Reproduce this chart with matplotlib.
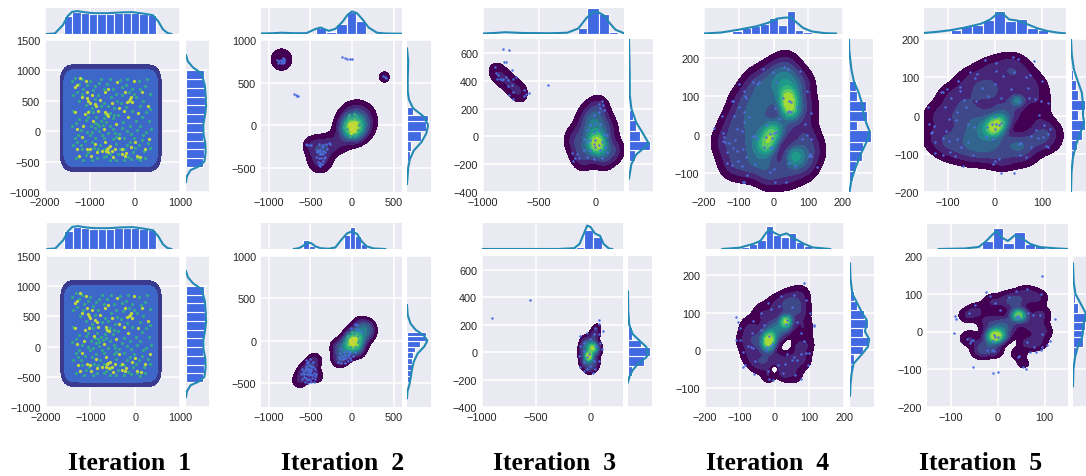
import numpy as np
import matplotlib
matplotlib.use("Agg")
import matplotlib.pyplot as plt

W, H = 1086, 477
TITLES = ["Iteration  1", "Iteration  2", "Iteration  3", "Iteration  4", "Iteration  5"]
TITLE_X = [130, 343, 555, 768, 981]

# ---------- Iteration 1 (both rows nearly alike)
P1_GRID_X = [-1490, -1300, -1110, -920, -730, -540, -350, -160, 30, 220, 410]
P1_GRID_Y = [-496, -318, -140, 38, 216, 394, 572, 750, 926]
P1_YELLOW = [(-1333,724),(-1074,641),(-1037,503),(-889,448),(-629,283),(-110,531),(-184,487),(-629,-294),(-592,-349),
 (-851,-349),(-1074,-294),(-1185,-101),(-1296,36),(38,-404),(-221,-404),(-296,-294),(-592,256),(-1037,311),(-926,173),
 (-407,806),(-221,641),(-666,641),(223,-294),(0,-184),(-444,-294),(-1333,311),(-1185,560),(-960,600),(-780,520),(-520,470),
 (-350,380),(-60,480),(150,640),(280,420),(-150,230),(-420,120),(-700,40),(-1150,90),(-1280,-300),(-880,-210),(-660,-180),
 (-350,-120),(-80,-260),(120,-420),(-500,-420),(-980,-410),(-1240,-400),(-740,-330),(-560,-250),(-300,-380),(320,-130),
 (-1120,280),(-820,330),(-240,330),(60,300),(-600,690),(-30,830),(-1100,830),(-1230,880),(-640,-330),(-610,-270),(-130,500),
 (-90,560),(-1060,540),(-1010,470),(-860,410),(-200,-360),(-660,320),(-1300,760),(-1010,-300),(-520,-330)]
P1_GREEN = [(-1400,820),(-1250,780),(-1150,700),(-1000,820),(-880,740),(-750,860),(-620,780),(-480,700),(-340,840),(-200,760),
 (-60,700),(80,820),(220,740),(340,620),(-1380,600),(-1240,500),(-1100,430),(-960,380),(-820,600),(-680,470),(-540,560),
 (-400,490),(-280,590),(-140,640),(30,560),(180,500),(330,360),(-1380,330),(-1250,200),(-1100,180),(-980,90),(-860,230),
 (-760,160),(-640,150),(-880,60),(-800,80),(-840,120),(-720,110),(-500,210),(-380,260),(-260,150),(-120,90),(20,160),
 (160,240),(310,160),(-1400,80),(-1260,-60),(-1120,-160),(-1000,-60),(-880,-120),(-740,-60),(-600,-30),(-480,30),(-360,-40),
 (-240,-110),(-100,-40),(40,20),(180,-60),(350,30),(-1380,-220),(-1280,-180),(-1180,-300),(-1040,-340),(-920,-280),(-780,-230),
 (-700,-290),(-560,-370),(-420,-210),(-340,-300),(-180,-230),(-40,-340),(80,-220),(200,-330),(330,-280),(-1320,-440),(-1150,-470),
 (-850,-440),(-700,-430),(-560,-470),(-250,-470),(-100,-450),(100,-480),(-660,290),(-560,300),(-470,270),(-1050,230),(-950,-20),
 (-1330,880),(-1180,860),(-1060,760),(-930,680),(-810,790),(-690,700),(-550,860),(-420,610),(-300,720),(-170,860),(-30,610),(120,690),
 (260,860),(-1300,650),(-1170,610),(-1030,330),(-900,530),(-750,410),(-610,420),(-460,380),(-320,460),(-190,390),(-70,330),(100,410),
 (240,310),(-1320,130),(-1190,20),(-1060,-10),(-940,310),(-810,10),(-690,-110),(-560,90),(-420,-90),(-300,60),(-180,10),(-30,-120),
 (110,90),(250,-20),(-1330,-110),(-1210,-230),(-1090,-390),(-960,-180),(-830,-300),(-640,-400),(-480,-130),(-380,-380),(-240,-300),
 (-120,-170),(10,-280),(150,-150),(280,-200),(-950,-470),(-420,-470),(-160,-420),(40,-440),(230,-440),(-900,140),(-680,210),(-440,-30)]

P1_TOP_E = [-1578, 467]
P1A_TOP_H = [.69,.85,.79,.78,.78,.78,.79,.82,.82,.76,.74]
P1_TOP_LINE_X = [-1960,-1780,-1600,-1500,-1400,-1280,-1100,-900,-600,-300,-50,200,400,520,620,720,810]
P1_TOP_LINE_Y = [0,.02,.35,.68,.85,.88,.83,.8,.8,.83,.84,.78,.72,.48,.18,.04,0]
P1_RIGHT_E = [-588, 1005]
P1_RIGHT_H = [.72,.8,.82,.74,.72,.78,.82,.84,.82,.8,.78]
P1_RIGHT_LINE_Y = [-835,-740,-640,-580,-500,-350,-200,-50,100,250,400,550,750,950,1050,1150,1250]
P1_RIGHT_LINE_X = [0,.04,.2,.55,.8,.85,.84,.76,.75,.82,.87,.86,.82,.68,.3,.08,0]

# ---------- Iteration 2, top
P2A_KDE = [(15,-30,.72,85),(60,50,.4,125),(-40,-80,.14,110),(-170,-220,.1,85),(-290,-240,.1,80),(-385,-260,.13,95),
 (-385,-420,.17,95),(-490,-240,.1,72),(-850,770,.1,118),(390,565,.085,68)]
P2A_PTS = [(-880,750),(-860,730),(-850,760),(-835,790),(-820,760),(-830,730),(-900,760),(-890,730),(-845,750),(-815,740),(-825,780),
 (375,580),(410,550),(395,560),(-120,795),(-90,785),(-60,780),(-30,780),(0,775),(-695,370),(-675,355),(-660,345),(-650,340),
 (-560,-225),(-540,-235),(-510,-230),(-490,-235),(-400,-220),(-350,-230),(-310,-225),(-280,-210),(-260,-220),(-380,-290),(-360,-260),
 (-420,-320),(-390,-340),(-350,-340),(-400,-390),(-370,-380),(-330,-370),(-410,-430),(-380,-440),(-350,-420),(-340,-390),(-380,-480),
 (-360,-460),(-400,-470),(-420,-290),(-300,-280),(-320,-320),(-395,-300),(-375,-330),(-430,-370),(-345,-300)]
P2A_YEL = [(-20,30),(-10,-10),(10,-20),(20,0),(-30,-30),(-5,-60),(15,-45),(-15,-90),(30,20),(-35,10),(40,-20),(25,-70),(0,15),(-20,-50)]
P2A_TEAL = [(-50,80),(0,80),(60,70),(80,0),(70,-60),(-60,-50),(-20,-130),(30,-120),(-80,30),(100,30),(-40,120),(20,130),(50,110),(-100,-20)]
P2A_TOP = ([-430,-310,-190,-60,50,170],[.24,.08,.38,.85,.5])
P2A_TOP_X = [-1096,-950,-850,-700,-550,-450,-380,-280,-200,-120,-50,0,60,130,200,300,400,600]
P2A_TOP_Y = [.02,.03,.05,.03,.03,.18,.25,.12,.2,.45,.75,.87,.8,.55,.25,.05,.02,.01]
P2A_RIGHT = ([-420,-300,-185,-65,45,118,215],[.12,.15,.6,.8,.86,.26])
P2A_RIGHT_Y = [-690,-500,-400,-300,-200,-100,0,100,200,300,400,550,750,900]
P2A_RIGHT_X = [0,.05,.12,.28,.6,.8,.88,.7,.25,.08,.03,.03,.05,0]

# ---------- Iteration 3, top
P3A_KDE = [(-890,470,.075,50),(-830,430,.075,50),(-770,385,.075,50),(-710,340,.075,50),(-660,305,.07,50),
 (15,-55,.6,50),(0,10,.3,95),(-30,120,.17,75),(30,205,.11,60),(-180,-30,.12,65),(-110,-140,.16,65),(80,-140,.17,62),(175,-100,.12,55),(110,60,.06,60)]
P3A_PTS = [(-818,630),(-768,623),(-425,371),(-893,498),(-812,534),(-795,534),(-884,457),(-863,438),(-878,414),(-848,414),(-818,414),
 (-795,426),(-833,402),(-774,402),(-735,414),(-705,426),(-780,362),(-744,366),(-735,318),(-765,295),(-729,270),(-634,330),(-616,307),
 (-634,290),(-586,314),(-744,474),(60,251),(30,235),(68,223),(45,204),(74,187),(30,175),(-15,151),(0,91),(-45,79),(45,91),(-74,43),
 (-15,31),(30,43),(74,19),(104,7),(-104,-17),(-51,-29),(0,-29),(-74,-41),(-15,-53),(30,-65),(60,-41),(89,-77),(-6,-77),(-45,-101),
 (45,-101),(104,-113),(-104,-101),(-164,-125),(-199,-180),(-179,-156),(-149,-156),(-74,-149),(-15,-160),(60,-156),(-208,-117)]
P3A_TOP = ([-150,-70,30,125,200],[.22,1.0,.75,.06])
P3A_TOP_X = [-1000,-900,-800,-650,-400,-250,-150,-80,-20,20,80,130,180,250]
P3A_TOP_Y = [0,.02,.05,.02,.01,.03,.2,.6,.85,.85,.7,.4,.15,.02]
P3A_RIGHT = ([-177,-100,-30,38,115,187],[.25,.88,.45,.3,.15])
P3A_RIGHT_Y = [-304,-200,-130,-80,-50,-20,30,100,200,300,450,700]
P3A_RIGHT_X = [0,.1,.3,.65,.82,.72,.55,.3,.1,.03,.03,0]

# ---------- Iteration 4, top
P4A_KDE = [(42,95,.38,19),(48,65,.38,19),(-5,5,.32,19),(-18,-25,.32,19),(60,-55,.25,20),(20,20,.16,24),
 (35,175,.11,28),(-5,150,.11,28),(-50,130,.11,28),(-85,85,.11,28),(-110,30,.11,28),(-135,-20,.11,28),(-115,-75,.11,28),(-70,-85,.09,26),
 (-15,-105,.11,26),(35,-100,.11,28),(85,-80,.11,28),(105,-40,.11,28),(85,5,.1,28),(85,70,.11,28),(75,130,.11,28),(35,130,.2,28),
 (-20,90,.15,30),(-50,40,.15,30),(-60,-20,.17,30),(-30,-60,.14,28)]
P4A_PTS = [(-29,172),(-2,163),(29,176),(43,172),(76,167),(-60,138),(-48,132),(-43,137),(-100,132),(-86,115),(-81,100),(-78,95),(-119,87),
 (-116,87),(-98,71),(-148,48),(-114,48),(-86,58),(-71,45),(-86,32),(-171,17),(-105,15),(-90,10),(-146,4),(-143,-7),(-146,-16),(-141,-20),
 (-129,-22),(-112,-14),(-116,-35),(-105,-42),(-88,-37),(-135,-46),(-78,-59),(-133,-74),(-102,-70),(-119,-79),(-92,-81),(-52,-78),(-76,-105),
 (-88,-123),(-84,-123),(27,95),(45,87),(49,84),(67,71),(5,70),(46,63),(43,58),(49,58),(17,41),(8,137),(-19,24),(2,4),(8,6),(-11,2),(-21,-7),
 (-5,-10),(-26,-33),(-10,-36),(-5,-33),(-52,-4),(-62,-3),(-48,-11),(90,28),(97,0),(107,-11),(81,-11),(109,-55),(103,-55),(106,-50),(124,-85),
 (46,-74),(62,-81),(2,-90),(-10,-98),(5,-125),(36,-125),(107,57),(95,115)]
P4A_TOP = ([-144,-118,-92,-66,-40,-14,12,38,62,86,112],[.03,.08,.2,.3,.38,.6,.35,.88,.15,.05])
P4A_TOP_X = [-200,-150,-100,-50,-15,10,30,50,65,85,110,150,180]
P4A_TOP_Y = [0,.04,.15,.28,.42,.58,.62,.63,.45,.22,.08,.01,0]
P4A_RIGHT = ([-120,-96,-70,-44,-18,12,36,62,88,114,140],[.18,.3,.55,.6,.9,.35,.75,.7,.33,.3])
P4A_RIGHT_Y = [-150,-120,-90,-50,-10,10,30,55,80,110,140,170,220,250]
P4A_RIGHT_X = [.02,.1,.25,.5,.8,.85,.72,.6,.55,.4,.2,.1,.01,0]

# ---------- Iteration 5, top
P5A_KDE = [(-3,-36,.44,14),(7,-18,.44,14),(47,39,.28,11),(50,-79,.14,18),(25,8,.2,22),(-25,-22,.2,26),
 (33,132,.1,24),(-8,118,.1,24),(-48,92,.1,24),(-88,50,.1,24),(-118,0,.1,24),(-122,-55,.1,24),(-98,-85,.1,24),(-55,-98,.1,24),
 (-12,-100,.09,24),(18,-118,.09,20),(60,-105,.1,22),(105,-65,.11,24),(112,-38,.08,20),(92,-8,.07,20),(88,35,.08,22),(78,75,.1,24),(50,105,.1,24),
 (-70,0,.12,28),(-40,45,.1,28),(0,65,.14,26),(-65,-55,.13,28),(-25,-70,.16,26),(20,-70,.13,24),(80,-60,.1,22)]
P5A_PTS = [(-22,146),(3,137),(37,152),(49,148),(82,143),(3,117),(40,113),(-37,109),(-42,97),(-53,113),(17,102),(74,106),(65,100),(100,91),
 (-78,89),(-73,74),(-102,69),(-115,62),(-110,62),(-74,63),(1,82),(-27,72),(33,69),(70,72),(-15,52),(-66,41),(-92,45),(-41,39),(12,45),(51,34),
 (72,45),(84,43),(98,39),(112,33),(-106,23),(-62,23),(-80,8),(-141,23),(93,1),(-97,-9),(-82,-13),(-139,-22),(-129,-28),(-134,-42),(-136,-46),
 (-104,-40),(-109,-60),(-97,-66),(-80,-61),(-127,-68),(-57,-22),(-44,-29),(-57,-70),(-71,-83),(-95,-96),(-127,-98),(-110,-103),(-85,-107),
 (-46,-102),(-68,-131),(0,-5),(-7,-22),(-16,-30),(3,-22),(12,-19),(8,-25),(-1,-35),(-19,-57),(-4,-61),(103,-26),(116,-35),(86,-37),(112,-48),
 (75,-54),(91,-60),(102,-55),(51,-74),(54,-72),(75,-83),(107,-79),(112,-83),(53,-102),(66,-109),(8,-115),(-1,-118),(-4,-127),(13,-150),(41,-150)]
P5A_TOP = ([-94,-71,-48,-25,-2,21,44,67,90,113],[.13,.28,.32,.52,.87,.5,.58,.2,.15])
P5A_TOP_X = [-150,-120,-90,-60,-30,-10,5,15,30,50,70,90,110,130,150]
P5A_TOP_Y = [.02,.07,.14,.25,.38,.55,.78,.8,.55,.5,.35,.2,.1,.04,0]
P5A_RIGHT = ([-115,-89,-63,-37,-11,15,41,67,93,119],[.1,.25,.45,.58,.3,.58,.28,.2,.1])
P5A_RIGHT_Y = [-200,-150,-110,-75,-40,-20,0,30,60,90,120,160,200]
P5A_RIGHT_X = [0,.02,.08,.22,.42,.55,.5,.5,.45,.28,.12,.03,0]

# ---------- Iteration 2, bottom
P2B_KDE = [(-150,-220,.16,62),(-90,-130,.22,72),(10,-20,.75,72),(90,70,.34,78),(190,165,.16,58),(-170,-70,.13,60),(70,-110,.14,62),(100,200,.1,58),(210,90,.1,58),
 (-630,-470,.11,62),(-570,-380,.14,62),(-500,-310,.14,62),(-450,-230,.11,58),(-430,-420,.11,55)]
P2B_PTS = [(-560,-230),(-530,-250),(-500,-220),(-470,-250),(-520,-290),(-490,-300),(-560,-300),(-600,-330),(-570,-350),(-530,-340),(-490,-350),
 (-450,-330),(-610,-390),(-580,-400),(-540,-390),(-500,-400),(-460,-380),(-430,-390),(-600,-450),(-560,-440),(-520,-450),(-480,-440),(-450,-450),
 (-570,-490),(-530,-500),(-490,-490),(-460,-490),(-510,-470),(-540,-270),(-510,-370),(-550,-320),(-470,-310),(-590,-370),(-520,-410),(-480,-410),
 (-545,-470),(-500,-340),(-440,-420),(-575,-425),(-530,-365),
 (-170,-250),(-130,-270),(-90,-260),(-50,-240),(-150,-220),(-110,-220),(-70,-210),(-30,-200),(-160,-190),(-120,-180),(-80,-170),(-40,-160),
 (10,-180),(-100,-130),(-60,-120),(-130,-100),(-20,-130),(30,-130),(60,180),(30,200),(90,130),(-10,150),(50,140),(120,100),(-140,-150),(-95,-205),(-45,-185),(-15,-225)]
P2B_YEL = [(-20,10),(10,-10),(20,20),(-10,-30),(30,-5),(0,30),(-30,-10),(40,30),(15,-35)]
P2B_TEAL = [(-50,60),(20,80),(70,50),(70,-20),(-70,-20),(-30,-70),(30,-70),(-60,30),(90,10),(0,100),(50,90)]
P2B_TOP = ([-590,-520,-450,-380,-310,-240,-170,-100,-30,40,110,180],[.35,.12,.03,0,0,0,0,.55,.85,.5,.2])
P2B_TOP_X = [-700,-640,-590,-540,-490,-440,-380,-280,-200,-130,-60,0,60,120,180,260,400]
P2B_TOP_Y = [0,.03,.12,.25,.22,.1,.03,.01,.06,.35,.6,.68,.58,.28,.1,.02,0]
P2B_RIGHT = ([-490,-420,-350,-280,-210,-140,-70,0,60,105],[.15,.15,.22,.22,.25,.35,.55,.8,.8])
P2B_RIGHT_Y = [-680,-600,-520,-450,-350,-250,-150,-70,0,60,130,200,300,420]
P2B_RIGHT_X = [0,.02,.1,.15,.2,.28,.45,.72,.85,.7,.35,.15,.03,0]

# ---------- Iteration 3, bottom
P3B_KDE = [(-15,-30,.6,24),(20,30,.38,26),(0,40,.2,42),(-45,60,.14,35),(-50,-70,.16,35),(30,-80,.16,35),(-10,-120,.1,28),(35,120,.12,30),
 (60,170,.08,28),(60,20,.14,32),(-70,0,.12,30)]
P3B_PTS = [(-905,247),(-561,381),(77,232),(77,201),(117,153),(46,177),(-31,141),(-92,117),(31,129),(77,129),(0,93),(-61,69),(-98,45),(92,69),(52,45),
 (107,21),(-61,10),(-15,-14),(-107,-26),(-31,-38),(31,-62),(77,-62),(-61,-74),(0,-98),(-92,-110),(-31,-122),(46,-122),(21,-151),(-55,-139)]
P3B_TOP = ([-130,-60,25,110],[.07,.72,.47])
P3B_TOP_X = [-1000,-300,-150,-100,-60,-30,0,40,90,120,170,200]
P3B_TOP_Y = [0,0,.03,.2,.6,.9,.85,.6,.5,.2,.02,0]
P3B_RIGHT = ([-175,-100,-30,35,90,180],[.15,.65,.9,.55,.18])
P3B_RIGHT_Y = [-220,-180,-130,-80,-40,-15,0,15,40,80,130,200,300,440]
P3B_RIGHT_X = [0,.06,.2,.45,.75,.85,.8,.82,.75,.5,.2,.05,.01,0]

# ---------- Iteration 4, bottom
P4B_KDE = [(-15,32,.44,13),(-18,14,.4,13),(33,78,.4,10),(35,70,.2,16),(-5,50,.2,22),(15,60,.14,20),
 (75,145,.09,20),(40,135,.09,20),(5,120,.09,20),(-35,98,.09,20),(-72,62,.09,20),(-82,25,.09,20),(-68,-15,.09,20),(-45,-35,.09,18),(-20,-25,.12,18),
 (-18,-68,.09,13),(25,-62,.09,14),(55,-62,.09,18),(80,-25,.1,18),(90,15,.09,18),(85,60,.09,18),(75,105,.11,20),(45,-25,.1,16),(65,10,.07,14),
 (-45,25,.13,20),(45,110,.11,20),(12,-22,.09,14),(20,-45,.07,12),(38,15,-.12,6),(1,-50,-.14,6)]
P4B_PTS = [(85,179),(-112,88),(-105,75),(-100,60),(-62,79),(-40,100),(-10,110),(20,145),(55,148),(90,133),(-30,68),(-65,45),(12,118),(-20,125),
 (50,115),(35,80),(33,70),(65,75),(102,100),(115,68),(-40,55),(-100,28),(-75,12),(-68,8),(-62,5),(-90,-5),(-17,38),(-22,10),(-12,12),(-8,18),(-25,2),
 (-55,-28),(-92,-43),(-60,-62),(-110,27),(-85,-40),(10,-40),(-20,-55),(-15,-76),(-5,-78),(55,-18),(75,-10),(90,-8),(100,-8),(35,-10),(50,-25),
 (65,-25),(75,-75),(60,-65),(30,-35),(25,-60),(115,65),(85,25),(75,45),(95,-40)]
P4B_TOP = ([-95,-72,-49,-25,-3,19,41,63,85,107],[.08,.2,.35,.9,.55,.45,.6,.28,.12])
P4B_TOP_X = [-150,-100,-60,-40,-25,-15,0,15,35,55,85,110,160]
P4B_TOP_Y = [0,.05,.2,.32,.6,.75,.62,.52,.6,.42,.2,.06,0]
P4B_RIGHT = ([-60,-35,-10,12,35,58,82,108,132,156],[.1,.15,.55,.8,.55,.75,.6,.3,.15])
P4B_RIGHT_Y = [-120,-90,-60,-35,-10,10,30,50,65,80,100,125,150,190,230]
P4B_RIGHT_X = [0,.02,.07,.15,.5,.75,.8,.62,.68,.7,.5,.3,.1,.02,0]

# ---------- Iteration 5, bottom
P5B_KDE = [(-5,-12,.62,13),(45,43,.52,11),(15,15,.2,18),(-25,-40,.12,15),
 (60,100,.09,15),(25,85,.09,15),(-10,78,.09,15),(-45,55,.09,14),(-65,42,.08,13),(85,90,.09,15),(92,45,.09,15),(95,0,.09,15),(85,-30,.09,14),
 (62,-30,.09,13),(45,-60,.08,12),(55,-85,.07,9),(-60,-18,.09,14),(-35,-52,.1,14),(-5,-52,.09,12),(12,-12,.07,13),(72,20,.11,17),(-20,25,.1,15),(40,75,.11,17)]
P5B_PTS = [(95,146),(40,108),(62,113),(92,99),(-15,94),(-25,105),(25,92),(-5,75),(-48,69),(5,57),(43,40),(40,38),(45,36),(-60,49),(-90,42),(-88,32),
 (65,50),(75,45),(90,43),(122,32),(95,-7),(-92,-5),(-65,-21),(-58,-30),(-52,-23),(-57,-25),(-8,-8),(-5,-15),(2,-15),(-10,-25),(-22,-50),(-8,-52),(-12,-48),
 (62,-28),(78,-40),(95,-40),(112,-25),(105,-35),(92,-50),(82,-53),(70,-55),(45,-65),(43,-68),(-53,-95),(60,-100),(55,-95),(-9,-110),(2,-107)]
P5B_TOP = ([-32,-10,12,36,58,80,102,125],[.32,.85,.25,.67,.2,.12,.04])
P5B_TOP_X = [-125,-70,-40,-25,-12,-2,10,22,37,50,70,90,120,150]
P5B_TOP_Y = [0,.02,.08,.3,.55,.72,.45,.32,.55,.45,.2,.08,.03,0]
P5B_RIGHT = ([-65,-40,-15,5,25,50,75,100],[.12,.42,.38,.5,.55,.2,.08])
P5B_RIGHT_Y = [-145,-100,-70,-40,-15,0,15,35,50,70,100,130,180]
P5B_RIGHT_X = [0,.02,.08,.2,.38,.42,.4,.52,.52,.35,.1,.03,0]

# ---------- layout and style
LEVELS = [.05,.13,.21,.3,.39,.49,.59,.7,.82,1.01]
BLUE, TEAL, DOT = "#4169E1", "#2288B4", "#4C6FE0"
BG = "#EAEAF2"
plt.rcParams["font.family"] = ["Liberation Sans", "DejaVu Sans"]

fig = plt.figure(figsize=(W/100, H/100), dpi=100)

def axes_px(x0, y0, x1, y1):
    ax = fig.add_axes([x0/W, 1-y1/H, (x1-x0)/W, (y1-y0)/H])
    ax.set_facecolor(BG)
    for s in ax.spines.values():
        s.set_visible(False)
    ax.set_axisbelow(True)
    return ax

def density(kde, xlim, ylim):
    gx = np.linspace(*xlim, 420)
    gy = np.linspace(*ylim, 420)
    X, Y = np.meshgrid(gx, gy)
    Z = np.zeros_like(X)
    for cx, cy, w, s in kde:
        Z += w*np.exp(-((X-cx)**2+(Y-cy)**2)/(2*s*s))
    return gx, gy, Z/Z.max()

def panel(box, xlim, ylim, xt, yt, kde, pts, top, topx, topy, right, rightx, righty, yel=(), teal=()):
    mx0, my0, mx1, my1, ty0, ty1, rx0, rx1 = box
    ax = axes_px(mx0, my0, mx1, my1)
    ax.set_xlim(xlim); ax.set_ylim(ylim)
    ax.set_xticks(xt); ax.set_yticks(yt)
    ax.grid(True, color="white", lw=1.1)
    ax.tick_params(length=0, labelsize=7.8, pad=3.5, colors="#262626")
    if kde is not None:
        gx, gy, Z = density(kde, xlim, ylim)
        cols = plt.cm.viridis(np.linspace(0.0, .86, len(LEVELS)-1))
        ax.contourf(gx, gy, Z, levels=LEVELS, colors=cols, zorder=2)
    if len(teal):
        ax.scatter(*zip(*teal), s=5, color="#3fa58a", lw=0, zorder=3)
    if len(yel):
        ax.scatter(*zip(*yel), s=5, color="#c3d93a", lw=0, zorder=3)
    if len(pts):
        ax.scatter(*zip(*pts), s=3.2, color=DOT, lw=0, zorder=4)
    at = axes_px(mx0, ty0, mx1, ty1)
    at.set_xlim(xlim); at.set_ylim(0, 1)
    at.set_xticks(xt); at.set_yticks([])
    at.grid(True, axis="x", color="white", lw=1.1)
    at.tick_params(length=0, labelbottom=False)
    e, h = top
    at.bar(e[:-1], h, width=np.diff(e), align="edge", color=BLUE, edgecolor="white", lw=.8, zorder=2)
    at.plot(topx, topy, color=TEAL, lw=1.5, zorder=3)
    ar = axes_px(rx0, my0, rx1, my1)
    ar.set_ylim(ylim); ar.set_xlim(0, 1)
    ar.set_yticks(yt); ar.set_xticks([])
    ar.grid(True, axis="y", color="white", lw=1.1)
    ar.tick_params(length=0, labelleft=False)
    e, h = right
    ar.barh(e[:-1], h, height=np.diff(e), align="edge", color=BLUE, edgecolor="white", lw=.8, zorder=2)
    ar.plot(rightx, righty, color=TEAL, lw=1.5, zorder=3)
    return ax

BOXES_A = [(45,41,180,193,9,35,186,209),(261,41,402,193,9,35,407,431),(483,40,624,193,9,34.5,629,653),
           (704,40,843,193,9,34.5,849,873),(924,40,1066,193,9,34.5,1071,1095)]
BOXES_B = [(45.5,257,180,408,224,250,186,209),(261,257,402,408,224,250,407,431),(482,257,623,408,224,250,628,652),
           (705,257,844,408,224,250,850,874),(927,257,1068,408,225,250,1073,1097)]
XL = [(-2000,1000),(-1096,602),(-1000,256),(-200,200),(-150,150)]
YL = [(-1000,1500),(-785,1000),(-400,700),(-150,250),(-200,200)]
XT = [[-2000,-1000,0,1000],[-1000,-500,0,500],[-1000,-500,0],[-200,-100,0,100,200],[-100,0,100]]
YT = [[-1000,-500,0,500,1000,1500],[-500,0,500,1000],[-400,-200,0,200,400,600],[-100,0,100,200],[-200,-100,0,100,200]]

def first_panel(box):
    top = (list(np.linspace(*P1_TOP_E, len(P1A_TOP_H)+1)), P1A_TOP_H)
    right = (list(np.linspace(*P1_RIGHT_E, len(P1_RIGHT_H)+1)), P1_RIGHT_H)
    ax = panel(box, XL[0], YL[0], XT[0], YT[0], None, (), top, P1_TOP_LINE_X, P1_TOP_LINE_Y, right, P1_RIGHT_LINE_X, P1_RIGHT_LINE_Y)
    gx = np.linspace(*XL[0], 500); gy = np.linspace(*YL[0], 500)
    X, Y = np.meshgrid(gx, gy)
    Z = np.zeros_like(X)
    for cx in P1_GRID_X:
        for cy in P1_GRID_Y:
            Z += np.exp(-((X-cx)**2+(Y-cy)**2)/(2*130.0**2))
    Z /= np.median(Z[Z > .5*Z.max()])
    ax.contourf(gx, gy, Z, levels=[.25,.5,50], colors=["#3A3A8E","#3D68C9"], zorder=2)
    ax.scatter(*zip(*P1_GREEN), s=5.5, color="#35A58C", lw=0, zorder=3)
    ax.scatter(*zip(*P1_YELLOW), s=5.5, color="#BFD83C", lw=0, zorder=3)

first_panel(BOXES_A[0])
first_panel(BOXES_B[0])

panel(BOXES_A[1],XL[1],YL[1],XT[1],YT[1],P2A_KDE,P2A_PTS,P2A_TOP,P2A_TOP_X,P2A_TOP_Y,P2A_RIGHT,P2A_RIGHT_X,P2A_RIGHT_Y,P2A_YEL,P2A_TEAL)
panel(BOXES_A[2],XL[2],YL[2],XT[2],YT[2],P3A_KDE,P3A_PTS,P3A_TOP,P3A_TOP_X,P3A_TOP_Y,P3A_RIGHT,P3A_RIGHT_X,P3A_RIGHT_Y)
panel(BOXES_A[3],XL[3],YL[3],XT[3],YT[3],P4A_KDE,P4A_PTS,P4A_TOP,P4A_TOP_X,P4A_TOP_Y,P4A_RIGHT,P4A_RIGHT_X,P4A_RIGHT_Y)
panel(BOXES_A[4],XL[4],YL[4],XT[4],YT[4],P5A_KDE,P5A_PTS,P5A_TOP,P5A_TOP_X,P5A_TOP_Y,P5A_RIGHT,P5A_RIGHT_X,P5A_RIGHT_Y)
panel(BOXES_B[1],XL[1],YL[1],XT[1],YT[1],P2B_KDE,P2B_PTS,P2B_TOP,P2B_TOP_X,P2B_TOP_Y,P2B_RIGHT,P2B_RIGHT_X,P2B_RIGHT_Y,P2B_YEL,P2B_TEAL)
panel(BOXES_B[2],(-1000,300),YL[2],XT[2],YT[2],P3B_KDE,P3B_PTS,P3B_TOP,P3B_TOP_X,P3B_TOP_Y,P3B_RIGHT,P3B_RIGHT_X,P3B_RIGHT_Y)
panel(BOXES_B[3],XL[3],YL[3],XT[3],YT[3],P4B_KDE,P4B_PTS,P4B_TOP,P4B_TOP_X,P4B_TOP_Y,P4B_RIGHT,P4B_RIGHT_X,P4B_RIGHT_Y)
panel(BOXES_B[4],XL[4],YL[4],XT[4],YT[4],P5B_KDE,P5B_PTS,P5B_TOP,P5B_TOP_X,P5B_TOP_Y,P5B_RIGHT,P5B_RIGHT_X,P5B_RIGHT_Y)

for t, x in zip(TITLES, TITLE_X):
    fig.text(x/W, 1-463.5/H, t, ha="center", va="center", family="Liberation Serif", weight="bold", fontsize=18.5, color="black")

fig.savefig("out.png", dpi=100)
